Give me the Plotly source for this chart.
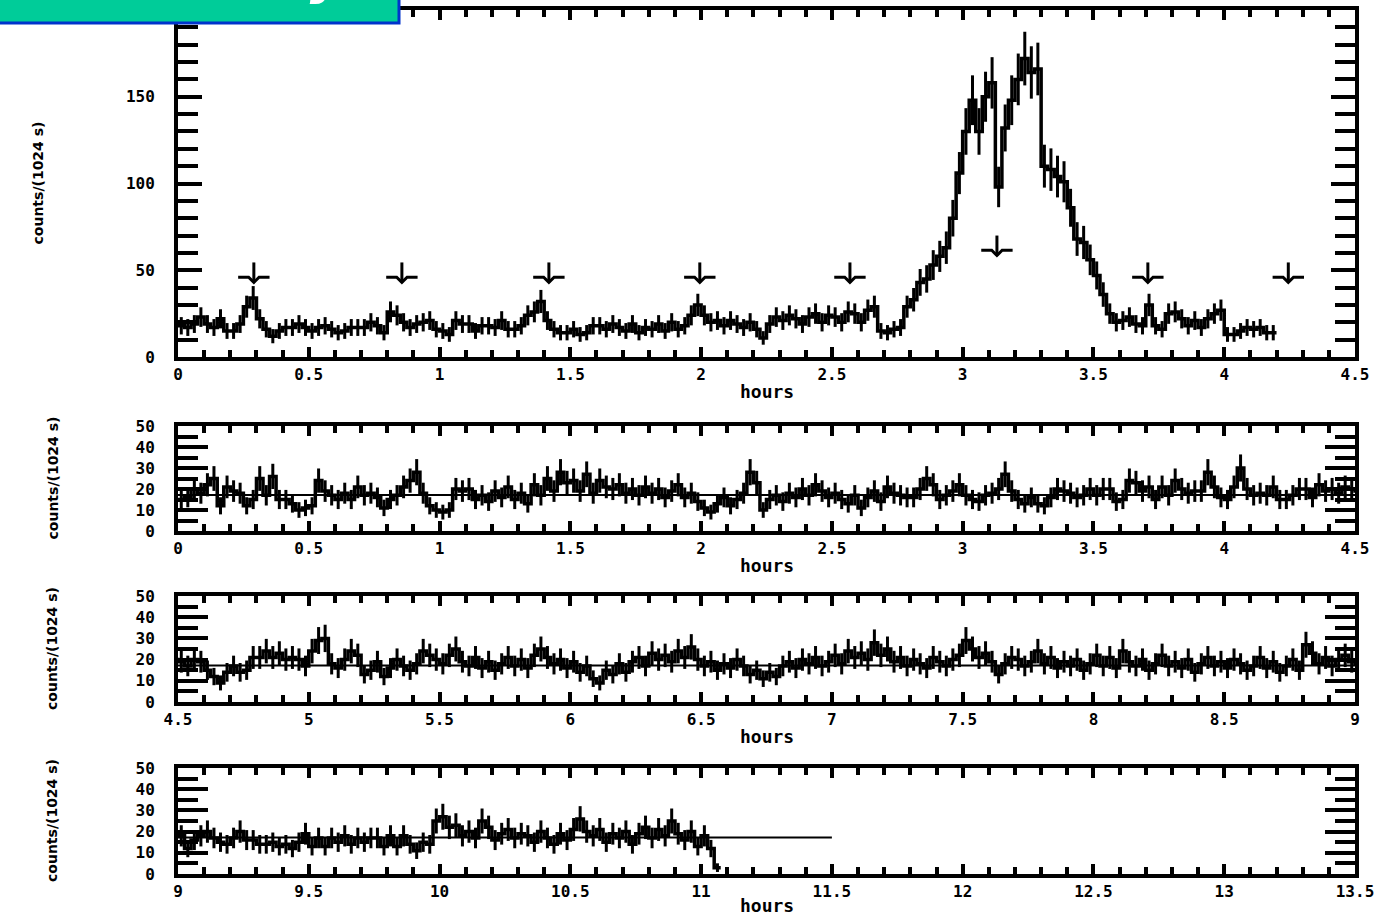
import numpy as np
import plotly.graph_objects as go

# ---------------------------------------------------------------------------
# Light-curve data: rates in counts per 1024 s, binned every 0.025 h (90 s)
# ---------------------------------------------------------------------------
BIN_H = 0.025

# Upper band, 0 - 4.2 h (contains the flare near 3.1 h)
top_rate = [
    18, 17, 19, 23, 19, 17, 22, 15, 15, 19, 29, 34, 22, 16, 12, 15, 17, 17, 19, 17,
    15, 17, 18, 16, 14, 15, 17, 17, 17, 20, 18, 14, 26, 24, 20, 17, 19, 20, 21, 16,
    15, 13, 21, 19, 19, 15,
    18, 18, 17, 21, 16, 16, 18, 24, 26, 32, 21, 16, 14, 14, 16, 13, 14, 18, 18, 16, 19,
    17, 15, 19, 14, 17, 16, 19, 15, 20, 16, 18, 24, 30, 24, 20, 21, 18, 21, 19, 17,
    20, 16, 11, 19, 23, 21, 24, 22, 19, 23, 25, 20, 24,
    23, 20, 26, 25, 20, 27, 29, 15, 14, 16, 17, 29, 33, 43, 45, 53, 58, 63, 80, 106,
    130, 148, 130, 150, 158, 98, 132, 148, 160, 172, 164, 166, 110, 108, 104, 101, 86, 68, 66, 56,
    47, 36, 25, 20, 21, 23, 19, 18, 30, 18, 16, 25, 26, 22, 18, 21, 17, 22, 25, 27,
    13, 13, 15, 17, 16, 17, 14, 14,
]

# Lower band, 0 - 11.075 h, shown over three rows
lower_rate = [
    # 0 - 1.15 h
    15, 16, 20, 18, 22, 25, 12, 21, 19, 18, 12, 15, 25, 17, 26, 15, 15, 13, 10, 11,
    12, 24, 19, 17, 15, 18, 15, 21, 17, 18, 16, 11, 15, 17, 21, 24, 28, 18, 12, 10,
    9, 10, 20, 19, 20, 15,
    # 1.15 - 2.75 h
    17, 14, 19, 16, 21, 15, 18, 13, 22, 17, 25, 19, 28, 23, 24, 19, 27, 18, 24, 21,
    20, 22, 18, 20, 17, 21, 18, 20, 16, 19, 22, 16, 18, 14, 11, 9, 13, 16, 12, 15,
    18, 28, 23, 10, 15, 17, 14, 18, 16, 20, 17, 22, 19, 16, 18, 15, 13, 17, 11, 16,
    19, 14, 21, 18,
    # 2.75 - 4.5 h
    17, 16, 16, 20, 25, 22, 15, 17, 19, 22, 17, 15, 14, 17, 18, 20, 27, 19, 15, 13,
    16, 13, 12, 16, 20, 19, 18, 16, 17, 20, 17, 20, 20, 14, 15, 24, 23, 19, 21, 15,
    21, 17, 24, 20, 18, 19, 19, 28, 21, 16, 15, 21, 30, 20, 17, 18, 17, 21, 15, 15,
    17, 20, 20, 16, 22, 19, 20, 18, 21, 20,
    # 4.5 - 5.475 h
    19, 17, 20, 19, 15, 12, 9, 14, 17, 14, 15, 21, 21, 24, 21, 23, 20, 21, 20, 17,
    24, 29, 30, 18, 16, 20, 24, 22, 13, 15, 19, 12, 16, 20, 17, 15, 18, 24, 22,
    # 5.475 - 9.0 h
    20, 18, 22, 25, 19, 17, 21, 16, 19, 15, 18, 21, 17, 20, 16, 22, 25, 21, 18, 20,
    16, 19, 14, 17, 11, 9, 15, 13, 18, 14, 19, 21, 17, 23, 20, 22, 19, 24, 21, 26,
    20, 17, 19, 15, 18, 16, 20, 17, 13, 15, 11, 14, 12, 17, 19, 16, 20, 18, 21, 17,
    19, 22, 18, 24, 21, 23, 20, 28, 22, 25, 19, 21, 17, 20, 18, 16, 21, 19, 17, 20,
    22, 29, 25, 21, 23, 19, 13, 18, 21, 20, 17, 19, 24, 18, 21, 16, 19, 17, 20, 15,
    18, 22, 17, 21, 16, 24, 19, 17, 20, 15, 18, 22, 17, 19, 16, 20, 14, 18, 21, 17,
    19, 16, 20, 18, 15, 17, 21, 16, 19, 14, 17, 20, 15, 27, 23, 18, 21, 17, 20, 22, 19,
    # 9.0 - 11.075 h
    18, 12, 16, 18, 20, 17, 15, 14, 17, 20, 16, 16, 14, 14, 15, 13, 14, 12, 15, 19,
    13, 17, 13, 17, 15, 18, 14, 17, 15, 17, 17, 13, 18, 13, 18, 14, 11, 15, 14, 25,
    27, 22, 23, 18, 20, 17, 25, 22, 16, 19, 21, 17, 19, 18, 15, 20, 17, 14, 19, 16,
    21, 26, 20, 18, 21, 15, 19, 17, 20, 14, 19, 22, 17, 21, 18, 25, 19, 16, 20, 13,
    18, 12, 3,
]

# Expected times marked with arrows in the upper band (h) and arrow heights
arrow_times = [0.29, 0.856, 1.418, 1.995, 2.569, 3.131, 3.708, 4.245]
arrow_levels = [46, 46, 46, 46, 46, 61.5, 46, 46]

# Mean level of the lower band and the stretch it is drawn over in each row
mean_rate = 17.2
mean_spans = [(0.0, 4.5), (4.5, 9.0), (9.0, 11.5)]

# Row time windows (h), count-rate ranges and labelled rate ticks
row_xranges = [(0.0, 4.5), (0.0, 4.5), (4.5, 9.0), (9.0, 13.5)]
row_yranges = [(0, 200), (0, 50), (0, 50), (0, 50)]
row_yticks = [[0, 50, 100, 150], [0, 10, 20, 30, 40, 50],
              [0, 10, 20, 30, 40, 50], [0, 10, 20, 30, 40, 50]]

COUNTS_PER_UNIT = 0.72   # counts in one bin per unit of rate (Poisson errors)

# ---------------------------------------------------------------------------
W, H = 1393, 917
PX_LEFT, PX_RIGHT = 178, 1355
row_px = [(10, 357), (426, 531), (596, 702), (768, 874)]

def px_x(p):
    return p / W

def px_y(p):
    return 1 - p / H


def step_xy(rate, t0):
    v = np.asarray(rate, dtype=float)
    edges = t0 + BIN_H * np.arange(len(v) + 1)
    return np.repeat(edges, 2)[1:-1], np.repeat(v, 2)


def centers_err(rate, t0):
    v = np.asarray(rate, dtype=float)
    c = t0 + BIN_H * (np.arange(len(v)) + 0.5)
    err = np.sqrt(v * COUNTS_PER_UNIT) / COUNTS_PER_UNIT
    return c, v, err


fig = go.Figure()
LW = 3.5


def add_curve(rate, xa, ya):
    sx, sy = step_xy(rate, 0.0)
    fig.add_trace(go.Scatter(x=sx, y=sy, mode="lines", xaxis=xa, yaxis=ya,
                             line=dict(color="black", width=LW), hoverinfo="skip",
                             showlegend=False))
    c, v, e = centers_err(rate, 0.0)
    fig.add_trace(go.Scatter(x=c, y=v, mode="markers", xaxis=xa, yaxis=ya,
                             marker=dict(size=1, color="black"),
                             error_y=dict(type="data", array=e, visible=True,
                                          color="black", thickness=3, width=0),
                             hoverinfo="skip", showlegend=False))


# Upper band
add_curve(top_rate, "x", "y")

# Arrows marking the expected times
ax_x, ax_y = [], []
for t, lv in zip(arrow_times, arrow_levels):
    ax_x += [t - 0.06, t - 0.02, t, t + 0.02, t + 0.06, None, t, t, None]
    ax_y += [lv, lv, lv - 3, lv, lv, None, lv - 3, lv + 8.5, None]
fig.add_trace(go.Scatter(x=ax_x, y=ax_y, mode="lines", xaxis="x", yaxis="y",
                         line=dict(color="black", width=3), hoverinfo="skip",
                         showlegend=False))

# Lower band over three rows, each with its mean level
for k, (xa, ya) in enumerate([("x2", "y2"), ("x3", "y3"), ("x4", "y4")]):
    add_curve(lower_rate, xa, ya)
    s0, s1 = mean_spans[k]
    fig.add_trace(go.Scatter(x=[s0, s1], y=[mean_rate, mean_rate], mode="lines",
                             xaxis=xa, yaxis=ya, line=dict(color="black", width=2),
                             hoverinfo="skip", showlegend=False))

# ---------------------------------------------------------------------------
TICKFONT = dict(family="DejaVu Sans Mono", size=16, color="black", weight="bold")


def xaxis_cfg(k):
    return dict(domain=[px_x(PX_LEFT), px_x(PX_RIGHT)], range=list(row_xranges[k]),
                anchor="y" if k == 0 else f"y{k+1}",
                showline=True, linewidth=4, linecolor="black", mirror="ticks",
                ticks="inside", ticklen=10, tickwidth=4, tickcolor="black",
                tick0=0, dtick=0.5, showgrid=False, zeroline=False,
                tickfont=TICKFONT, ticklabelstandoff=0, automargin=False,
                minor=dict(ticks="inside", ticklen=7, tickwidth=4, tickcolor="black",
                           dtick=0.1, tick0=0, showgrid=False),
                fixedrange=True)


def yaxis_cfg(k):
    big = k == 0
    top, bot = row_px[k]
    return dict(domain=[px_y(bot), px_y(top)], range=list(row_yranges[k]),
                anchor="x" if k == 0 else f"x{k+1}",
                showline=True, linewidth=4, linecolor="black", mirror="ticks",
                ticks="inside", ticklen=24 if big else 30, tickwidth=4, tickcolor="black",
                tickmode="array", tickvals=row_yticks[k],
                showgrid=False, zeroline=False,
                tickfont=TICKFONT, ticklabelstandoff=16, automargin=False,
                minor=dict(ticks="inside", ticklen=20, tickwidth=4, tickcolor="black",
                           tickmode="linear", dtick=10 if big else 5, tick0=0,
                           showgrid=False),
                fixedrange=True)


layout = dict(width=W, height=H, margin=dict(l=0, r=0, t=0, b=0, pad=0),
              paper_bgcolor="white", plot_bgcolor="white", showlegend=False)
for k in range(4):
    sfx = "" if k == 0 else str(k + 1)
    layout["xaxis" + sfx] = xaxis_cfg(k)
    layout["yaxis" + sfx] = yaxis_cfg(k)
fig.update_layout(**layout)

# Axis titles
TITLEFONT = dict(family="DejaVu Sans", size=14, color="black", weight="bold")
title_x_px = [38, 52, 52, 52]
hours_y_px = [391, 565, 736, 905]
for k in range(4):
    top, bot = row_px[k]
    fig.add_annotation(text="counts/(1024 s)", xref="paper", yref="paper",
                       x=px_x(title_x_px[k]), y=px_y((top + bot) / 2),
                       textangle=-90, showarrow=False, font=TITLEFONT,
                       xanchor="center", yanchor="middle")
    fig.add_annotation(text="hours", xref="paper", yref="paper",
                       x=px_x((PX_LEFT + PX_RIGHT) / 2), y=px_y(hours_y_px[k]),
                       showarrow=False,
                       font=dict(family="DejaVu Sans Mono", size=18, color="black",
                                 weight="bold"),
                       xanchor="center", yanchor="middle")

# Banner across the top-left corner; its title sits above the page edge
fig.add_shape(type="rect", xref="paper", yref="paper",
              x0=px_x(-10), x1=px_x(399), y0=px_y(23), y1=px_y(-10),
              fillcolor="#00cc99", line=dict(color="#0033cc", width=3), layer="above")
fig.add_annotation(text="Periodicity", xref="paper", yref="paper",
                   x=px_x(348), y=px_y(7), xanchor="right", yanchor="bottom",
                   showarrow=False,
                   font=dict(family="DejaVu Sans", size=52, color="white",
                             weight="bold", style="italic"))

fig.write_html("out.html")
